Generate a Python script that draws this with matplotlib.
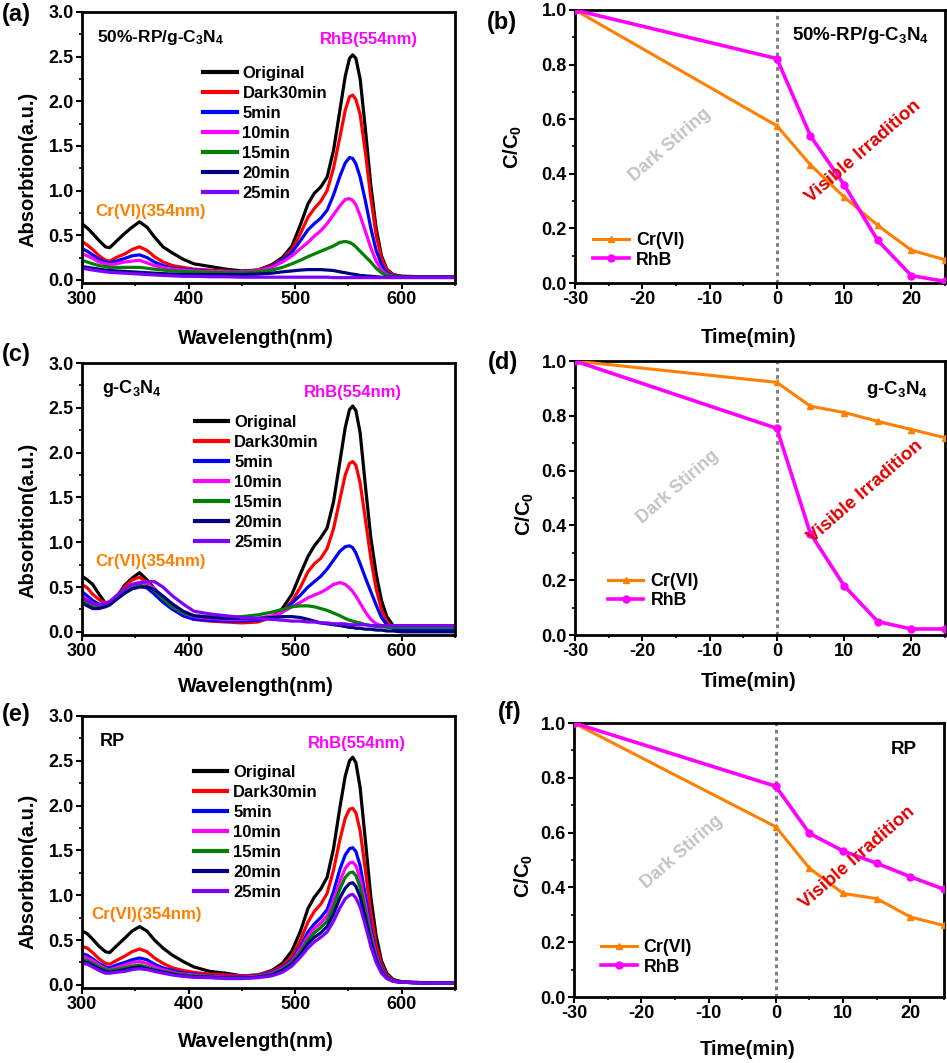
import numpy as np
import matplotlib
matplotlib.use("Agg")
import matplotlib.pyplot as plt
from matplotlib.ticker import MultipleLocator

plt.rcParams['font.family'] = ['Liberation Sans', 'DejaVu Sans']
plt.rcParams['font.weight'] = 'bold'
plt.rcParams['axes.labelweight'] = 'bold'
plt.rcParams['mathtext.default'] = 'regular'
plt.rcParams['axes.unicode_minus'] = False

# wavelength grid (nm) the spectra were read at
wl = [300, 305, 310, 316, 322, 326, 332, 340, 347, 354, 361, 368, 376, 385, 395, 405,
      420, 435, 450, 465, 478, 488, 497, 505, 512, 518, 524, 530, 536, 542, 547, 551,
      554, 557, 561, 566, 571, 576, 581, 586, 592, 600, 620, 650]

series_names = ['Original', 'Dark30min', '5min', '10min', '15min', '20min', '25min']
series_colors = ['black', '#ff0000', '#0000ff', '#ff00ff', '#008000', '#000080', '#8000ff']

# (a) 50%-RP/g-C3N4
rpg_original = [0.63, 0.58, 0.52, 0.44, 0.37, 0.36, 0.43, 0.52, 0.59, 0.65, 0.59, 0.48, 0.37, 0.30, 0.23, 0.18,
                0.15, 0.12, 0.10, 0.11, 0.17, 0.25, 0.38, 0.62, 0.85, 0.97, 1.04, 1.15, 1.45, 1.90, 2.28, 2.48,
                2.52, 2.48, 2.25, 1.68, 1.06, 0.58, 0.27, 0.12, 0.06, 0.04, 0.035, 0.03]
rpg_dark30 = [0.43, 0.39, 0.34, 0.27, 0.22, 0.21, 0.25, 0.29, 0.34, 0.37, 0.33, 0.26, 0.20, 0.16, 0.14, 0.12,
              0.11, 0.10, 0.09, 0.11, 0.16, 0.23, 0.34, 0.52, 0.70, 0.80, 0.88, 1.00, 1.25, 1.60, 1.90, 2.05,
              2.07, 2.02, 1.85, 1.42, 0.92, 0.50, 0.24, 0.11, 0.055, 0.04, 0.035, 0.03]
rpg_5 = [0.35, 0.32, 0.28, 0.23, 0.20, 0.19, 0.21, 0.24, 0.27, 0.28, 0.25, 0.20, 0.16, 0.13, 0.12, 0.11,
         0.10, 0.09, 0.09, 0.10, 0.15, 0.22, 0.31, 0.44, 0.56, 0.63, 0.69, 0.78, 0.95, 1.16, 1.31, 1.37,
         1.36, 1.30, 1.15, 0.88, 0.58, 0.33, 0.17, 0.08, 0.045, 0.035, 0.03, 0.03]
rpg_10 = [0.29, 0.27, 0.24, 0.20, 0.18, 0.17, 0.18, 0.20, 0.21, 0.22, 0.19, 0.16, 0.14, 0.12, 0.11, 0.10,
          0.095, 0.09, 0.09, 0.10, 0.14, 0.20, 0.27, 0.35, 0.42, 0.49, 0.55, 0.63, 0.73, 0.83, 0.90, 0.91,
          0.89, 0.84, 0.72, 0.54, 0.36, 0.21, 0.11, 0.06, 0.04, 0.03, 0.03, 0.03]
rpg_15 = [0.22, 0.20, 0.18, 0.16, 0.15, 0.14, 0.14, 0.14, 0.14, 0.14, 0.13, 0.12, 0.11, 0.10, 0.095, 0.09,
          0.085, 0.08, 0.08, 0.09, 0.11, 0.14, 0.18, 0.22, 0.26, 0.29, 0.32, 0.35, 0.38, 0.42, 0.43, 0.42,
          0.40, 0.37, 0.32, 0.26, 0.20, 0.13, 0.08, 0.05, 0.035, 0.03, 0.03, 0.03]
rpg_20 = [0.15, 0.14, 0.13, 0.12, 0.11, 0.105, 0.10, 0.095, 0.09, 0.085, 0.08, 0.075, 0.07, 0.065, 0.06, 0.06,
          0.06, 0.06, 0.06, 0.065, 0.075, 0.09, 0.10, 0.11, 0.115, 0.115, 0.115, 0.11, 0.105, 0.09, 0.08, 0.07,
          0.065, 0.06, 0.05, 0.045, 0.04, 0.035, 0.03, 0.03, 0.03, 0.03, 0.03, 0.03]
rpg_25 = [0.13, 0.12, 0.11, 0.10, 0.09, 0.085, 0.08, 0.075, 0.07, 0.065, 0.06, 0.055, 0.05, 0.045, 0.04, 0.04,
          0.035, 0.035, 0.03, 0.03, 0.03, 0.03, 0.03, 0.03, 0.03, 0.03, 0.03, 0.03, 0.025, 0.025, 0.025, 0.025,
          0.025, 0.025, 0.025, 0.025, 0.025, 0.025, 0.025, 0.025, 0.025, 0.025, 0.025, 0.025]

# (c) g-C3N4
gcn_original = [0.62, 0.58, 0.53, 0.42, 0.32, 0.31, 0.38, 0.52, 0.60, 0.66, 0.58, 0.48, 0.38, 0.29, 0.21, 0.17,
                0.15, 0.14, 0.13, 0.13, 0.17, 0.26, 0.42, 0.65, 0.84, 0.96, 1.05, 1.16, 1.45, 1.90, 2.28, 2.48,
                2.52, 2.47, 2.22, 1.62, 1.05, 0.65, 0.35, 0.17, 0.07, 0.05, 0.04, 0.04]
gcn_dark30 = [0.53, 0.49, 0.42, 0.36, 0.32, 0.32, 0.38, 0.50, 0.58, 0.61, 0.55, 0.45, 0.35, 0.26, 0.18, 0.14,
              0.12, 0.11, 0.10, 0.11, 0.16, 0.23, 0.34, 0.50, 0.67, 0.76, 0.82, 0.93, 1.15, 1.48, 1.75, 1.88,
              1.90, 1.86, 1.66, 1.25, 0.82, 0.48, 0.25, 0.11, 0.05, 0.03, 0.03, 0.03]
gcn_5 = [0.45, 0.40, 0.35, 0.31, 0.30, 0.31, 0.36, 0.44, 0.49, 0.52, 0.49, 0.42, 0.33, 0.25, 0.18, 0.14,
         0.13, 0.12, 0.12, 0.13, 0.16, 0.22, 0.32, 0.41, 0.50, 0.56, 0.62, 0.70, 0.80, 0.90, 0.95, 0.96,
         0.94, 0.88, 0.76, 0.60, 0.45, 0.30, 0.16, 0.08, 0.04, 0.02, 0.02, 0.02]
gcn_10 = [0.40, 0.36, 0.32, 0.29, 0.30, 0.32, 0.38, 0.46, 0.52, 0.55, 0.54, 0.48, 0.38, 0.28, 0.21, 0.17,
          0.15, 0.14, 0.14, 0.15, 0.18, 0.22, 0.28, 0.33, 0.38, 0.41, 0.44, 0.48, 0.53, 0.55, 0.53, 0.49,
          0.45, 0.40, 0.32, 0.22, 0.14, 0.09, 0.07, 0.06, 0.06, 0.06, 0.06, 0.06]
gcn_15 = [0.36, 0.32, 0.28, 0.27, 0.29, 0.31, 0.37, 0.44, 0.49, 0.51, 0.51, 0.46, 0.37, 0.28, 0.21, 0.18,
          0.17, 0.16, 0.17, 0.19, 0.22, 0.25, 0.28, 0.29, 0.29, 0.28, 0.26, 0.24, 0.21, 0.18, 0.15, 0.13,
          0.12, 0.11, 0.10, 0.08, 0.07, 0.06, 0.06, 0.05, 0.05, 0.05, 0.05, 0.05]
gcn_20 = [0.32, 0.29, 0.26, 0.26, 0.28, 0.30, 0.36, 0.43, 0.48, 0.50, 0.50, 0.47, 0.40, 0.31, 0.23, 0.18,
          0.16, 0.15, 0.15, 0.15, 0.16, 0.17, 0.17, 0.16, 0.14, 0.12, 0.10, 0.09, 0.08, 0.07, 0.06, 0.05,
          0.05, 0.04, 0.04, 0.03, 0.03, 0.02, 0.02, 0.01, 0.01, 0.0, 0.0, 0.0]
gcn_25 = [0.38, 0.35, 0.32, 0.30, 0.32, 0.34, 0.40, 0.48, 0.53, 0.55, 0.56, 0.56, 0.50, 0.40, 0.31, 0.23,
          0.20, 0.18, 0.16, 0.15, 0.14, 0.13, 0.12, 0.12, 0.11, 0.11, 0.10, 0.10, 0.09, 0.09, 0.09, 0.08,
          0.08, 0.08, 0.08, 0.08, 0.07, 0.07, 0.07, 0.07, 0.07, 0.07, 0.07, 0.07]

# (e) RP
rp_original = [0.60, 0.57, 0.51, 0.43, 0.37, 0.36, 0.43, 0.52, 0.60, 0.65, 0.60, 0.50, 0.41, 0.33, 0.26, 0.20,
               0.15, 0.13, 0.10, 0.11, 0.16, 0.24, 0.38, 0.60, 0.85, 0.98, 1.07, 1.20, 1.52, 1.98, 2.33, 2.50,
               2.54, 2.48, 2.20, 1.60, 0.98, 0.55, 0.27, 0.13, 0.06, 0.035, 0.025, 0.02]
rp_dark30 = [0.43, 0.41, 0.36, 0.29, 0.24, 0.23, 0.27, 0.32, 0.37, 0.40, 0.37, 0.30, 0.24, 0.19, 0.16, 0.14,
             0.12, 0.11, 0.10, 0.11, 0.15, 0.21, 0.32, 0.50, 0.70, 0.82, 0.90, 1.02, 1.28, 1.62, 1.86, 1.96,
             1.97, 1.92, 1.72, 1.27, 0.80, 0.45, 0.23, 0.11, 0.05, 0.03, 0.025, 0.02]
rp_5 = [0.35, 0.33, 0.29, 0.24, 0.20, 0.19, 0.22, 0.25, 0.28, 0.30, 0.28, 0.23, 0.19, 0.16, 0.13, 0.12,
        0.10, 0.09, 0.09, 0.10, 0.14, 0.19, 0.28, 0.43, 0.59, 0.68, 0.75, 0.84, 1.04, 1.29, 1.45, 1.52,
        1.53, 1.49, 1.33, 0.99, 0.63, 0.36, 0.19, 0.09, 0.045, 0.03, 0.02, 0.02]
rp_10 = [0.32, 0.30, 0.27, 0.22, 0.18, 0.17, 0.19, 0.22, 0.25, 0.26, 0.24, 0.20, 0.17, 0.14, 0.12, 0.11,
         0.095, 0.085, 0.085, 0.095, 0.13, 0.18, 0.26, 0.40, 0.54, 0.63, 0.69, 0.77, 0.94, 1.16, 1.30, 1.36,
         1.37, 1.33, 1.19, 0.89, 0.57, 0.33, 0.17, 0.085, 0.04, 0.03, 0.02, 0.02]
rp_15 = [0.28, 0.27, 0.24, 0.20, 0.17, 0.16, 0.17, 0.19, 0.21, 0.22, 0.20, 0.17, 0.15, 0.13, 0.11, 0.10,
         0.09, 0.08, 0.08, 0.09, 0.12, 0.17, 0.25, 0.37, 0.50, 0.58, 0.64, 0.71, 0.87, 1.07, 1.20, 1.25,
         1.26, 1.22, 1.09, 0.82, 0.53, 0.30, 0.16, 0.08, 0.04, 0.03, 0.02, 0.02]
rp_20 = [0.26, 0.25, 0.22, 0.18, 0.15, 0.14, 0.15, 0.17, 0.19, 0.20, 0.18, 0.16, 0.14, 0.12, 0.10, 0.09,
         0.085, 0.075, 0.075, 0.085, 0.11, 0.16, 0.23, 0.34, 0.46, 0.53, 0.58, 0.65, 0.79, 0.97, 1.08, 1.13,
         1.14, 1.10, 0.98, 0.74, 0.48, 0.28, 0.15, 0.075, 0.04, 0.03, 0.02, 0.02]
rp_25 = [0.24, 0.23, 0.20, 0.16, 0.13, 0.13, 0.14, 0.15, 0.17, 0.18, 0.17, 0.15, 0.13, 0.11, 0.095, 0.085,
         0.08, 0.07, 0.07, 0.08, 0.10, 0.14, 0.21, 0.31, 0.41, 0.48, 0.53, 0.59, 0.71, 0.86, 0.96, 1.00,
         1.01, 0.97, 0.87, 0.66, 0.43, 0.25, 0.13, 0.07, 0.04, 0.03, 0.02, 0.02]

# kinetics C/C0
time = [-30, 0, 5, 10, 15, 20, 25]
rpg_cr = [1.0, 0.576, 0.433, 0.315, 0.211, 0.12, 0.085]
rpg_rhb = [1.0, 0.822, 0.539, 0.36, 0.156, 0.027, 0.006]
gcn_cr = [1.0, 0.922, 0.835, 0.812, 0.78, 0.75, 0.72]
gcn_rhb = [1.0, 0.754, 0.37, 0.18, 0.049, 0.022, 0.022]
rp_cr = [1.0, 0.621, 0.47, 0.378, 0.359, 0.292, 0.261]
rp_rhb = [1.0, 0.769, 0.597, 0.533, 0.488, 0.439, 0.393]

W, H = 947, 1063
fig = plt.figure(figsize=(W / 100, H / 100), dpi=100)


def px_axes(left, top, right, bottom):
    return fig.add_axes([left / W, 1 - bottom / H, (right - left) / W, (bottom - top) / H])


def style(ax):
    for s in ax.spines.values():
        s.set_linewidth(2.0)
    ax.tick_params(which='major', direction='out', length=4, width=1.5, labelsize=13,
                   top=False, right=False, pad=2)
    ax.tick_params(which='minor', direction='out', length=2.5, width=1.2, top=False, right=False)


def spectra(ax, curves, sample, sample_fs, sample_pos, rhb_pos, cr_pos, leg_anchor, xl_y, yl_xy):
    for y, name, c in zip(curves, series_names, series_colors):
        ax.plot(wl, y, color=c, lw=2.3, label=name)
    ax.set_xlim(300, 650)
    ax.set_ylim(-0.035, 3.0)
    ax.xaxis.set_major_locator(MultipleLocator(100))
    ax.xaxis.set_minor_locator(MultipleLocator(50))
    ax.yaxis.set_major_locator(MultipleLocator(0.5))
    ax.yaxis.set_minor_locator(MultipleLocator(0.25))
    ax.set_xlabel('Wavelength(nm)', fontsize=14.5)
    ax.set_ylabel('Absorbtion(a.u.)', fontsize=14.5)
    ax.xaxis.set_label_coords(0.465, xl_y)
    ax.yaxis.set_label_coords(*yl_xy)
    ax.text(*sample_pos, sample, transform=ax.transAxes, fontsize=sample_fs, fontweight='bold',
            ha='left', va='center')
    ax.text(*rhb_pos, 'RhB(554nm)', transform=ax.transAxes, fontsize=12, fontweight='bold',
            color='#ff00ff', ha='center', va='center')
    ax.text(*cr_pos, 'Cr(VI)(354nm)', transform=ax.transAxes, fontsize=12.2, fontweight='bold',
            color='#ff7f00', ha='left', va='center')
    leg = ax.legend(loc='center left', bbox_to_anchor=leg_anchor, frameon=False, fontsize=12,
                    handlelength=2.0, handletextpad=0.35, labelspacing=0.3, borderpad=0,
                    borderaxespad=0)
    for line in leg.get_lines():
        line.set_linewidth(3)
    style(ax)


def kinetics(ax, cr, rhb, sample, sample_pos, dark_pos, vis_pos, leg_anchor, xl_y, yl_xy):
    ax.axvline(0, color='#808080', lw=2.2, ls=(0, (1.2, 1.2)), zorder=1)
    ax.plot(time, cr, color='#ff7f00', lw=2.2, marker='^', ms=5, label='Cr(VI)', zorder=3)
    ax.plot(time, rhb, color='#ff00ff', lw=2.6, marker='o', ms=5, label='RhB', zorder=3)
    ax.set_xlim(-30, 25)
    ax.set_ylim(0, 1.0)
    ax.xaxis.set_major_locator(MultipleLocator(10))
    ax.xaxis.set_minor_locator(MultipleLocator(5))
    ax.yaxis.set_major_locator(MultipleLocator(0.2))
    ax.yaxis.set_minor_locator(MultipleLocator(0.1))
    ax.set_xlabel('Time(min)', fontsize=14.5)
    ax.set_ylabel('C/C$_0$', fontsize=14.5)
    ax.xaxis.set_label_coords(0.47, xl_y)
    ax.yaxis.set_label_coords(*yl_xy)
    ax.text(*sample_pos, sample, transform=ax.transAxes, fontsize=13.5, fontweight='bold',
            ha='right', va='center')
    ax.text(*dark_pos, 'Dark Stiring', transform=ax.transAxes, fontsize=13, fontweight='bold',
            color='#c4c4c4', rotation=41, ha='center', va='center', rotation_mode='anchor')
    ax.text(*vis_pos, 'Visible Irradition', transform=ax.transAxes, fontsize=13.5, fontweight='bold',
            color='#e00000', rotation=41, ha='center', va='center', rotation_mode='anchor')
    ax.legend(loc='center left', bbox_to_anchor=leg_anchor, frameon=False, fontsize=12.8,
              handlelength=2.0, handletextpad=0.4, labelspacing=0.15, borderpad=0, borderaxespad=0)
    style(ax)


ax_a = px_axes(82, 12, 455, 283)
spectra(ax_a, [rpg_original, rpg_dark30, rpg_5, rpg_10, rpg_15, rpg_20, rpg_25],
        '50%-RP/g-C$_3$N$_4$', 12.5, (0.04, 0.905), (0.77, 0.897), (0.035, 0.262),
        (0.325, 0.552), -0.17, (-0.118, 0.42))

ax_b = px_axes(575, 10, 945, 283)
kinetics(ax_b, rpg_cr, rpg_rhb, '50%-RP/g-C$_3$N$_4$', (0.957, 0.905),
         (0.257, 0.505), (0.778, 0.48), (0.049, 0.12), -0.165, (-0.138, 0.5))

ax_c = px_axes(82, 363, 455, 635)
spectra(ax_c, [gcn_original, gcn_dark30, gcn_5, gcn_10, gcn_15, gcn_20, gcn_25],
        'g-C$_3$N$_4$', 13, (0.054, 0.905), (0.727, 0.89), (0.035, 0.27),
        (0.303, 0.562), -0.154, (-0.118, 0.42))

ax_d = px_axes(575, 361, 945, 635)
kinetics(ax_d, gcn_cr, gcn_rhb, 'g-C$_3$N$_4$', (0.954, 0.895),
         (0.278, 0.54), (0.784, 0.522), (0.089, 0.16), -0.135, (-0.105, 0.44))

ax_e = px_axes(82, 716, 455, 988)
spectra(ax_e, [rp_original, rp_dark30, rp_5, rp_10, rp_15, rp_20, rp_25],
        'RP', 13, (0.048, 0.905), (0.737, 0.90), (0.024, 0.27),
        (0.30, 0.573), -0.162, (-0.118, 0.43))

ax_f = px_axes(574, 723, 944, 997)
kinetics(ax_f, rp_cr, rp_rhb, 'RP', (0.927, 0.905),
         (0.292, 0.529), (0.765, 0.507), (0.073, 0.145), -0.157, (-0.105, 0.44))

for lab, x, y in [('(a)', 16, 15), ('(b)', 502, 22), ('(c)', 16, 355),
                  ('(d)', 503, 363), ('(e)', 16, 715), ('(f)', 510, 713)]:
    fig.text(x / W, 1 - y / H, lab, fontsize=17, fontweight='bold', ha='center', va='center')

# tick labels bold (ticks exist after a first draw)
fig.canvas.draw()
for ax in fig.axes:
    for lab in ax.get_xticklabels() + ax.get_yticklabels():
        lab.set_fontweight('bold')

fig.savefig('out.png', dpi=100)
